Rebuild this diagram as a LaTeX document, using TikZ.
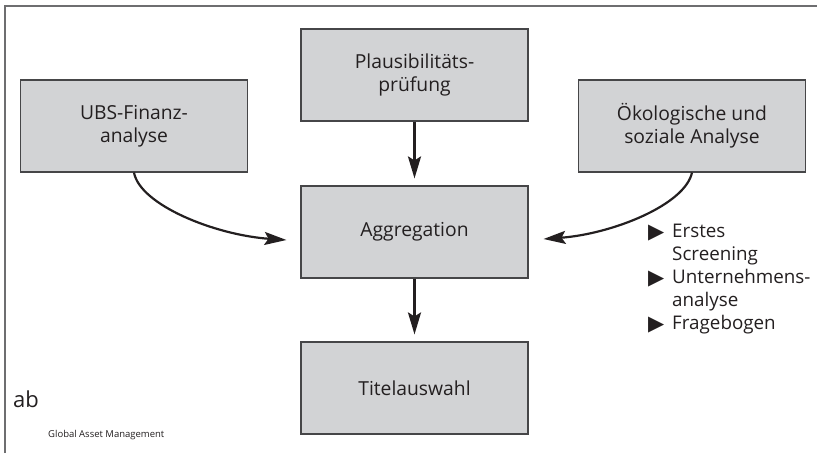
\documentclass[tikz,border=0pt]{standalone}
\usepackage{fontspec}
\setmainfont{Open Sans}
\newfontfamily\symfont{DejaVu Sans}
\usetikzlibrary{arrows.meta}
\definecolor{boxfill}{RGB}{210,211,213}
\definecolor{boxline}{RGB}{70,70,72}
\definecolor{ink}{RGB}{35,31,32}
\definecolor{framegray}{RGB}{110,110,112}
\newcommand{\tribullet}{\makebox[24pt][l]{\raisebox{-1pt}{\symfont\fontsize{21}{21}\selectfont ▶}}}
\newcommand{\tribindent}{\hspace*{24pt}}
\begin{document}
\begin{tikzpicture}[x=1pt,y=-1pt,
  stagebox/.style={draw=boxline,line width=1.1pt,fill=boxfill,minimum width=227pt,minimum height=92pt,
    align=center,text=ink,font=\fontsize{19.3}{23}\selectfont,inner sep=0pt},
  flowarrow/.style={draw=ink,line width=2.6pt,-{Stealth[length=22pt,width=13pt,inset=4pt]},shorten >=7pt},
  curvearrow/.style={draw=ink,line width=2.2pt,-{Stealth[length=22pt,width=13pt,inset=4pt]}}]
\useasboundingbox (0,0) rectangle (817,453);
\draw[framegray,line width=1.3pt] (5,453) -- (5,6) -- (817,6);
\node[stagebox] (ubs) at (134,126) {UBS-Finanz-\\analyse};
\node[stagebox] (plaus) at (414.5,75) {Plausibilitäts-\\prüfung};
\node[stagebox] (agg) at (414.5,232) {Aggregation};
\node[stagebox] (titel) at (414.5,388) {Titelauswahl};
\node[stagebox] (oeko) at (692,126) {Ökologische und\\soziale Analyse};
\draw[flowarrow] (plaus) -- (agg);
\draw[flowarrow] (agg) -- (titel);
\coordinate (lend) at ([xshift=-14pt,yshift=-8pt]agg.west);
\coordinate (rend) at ([xshift=15pt,yshift=-7pt]agg.east);
\draw[curvearrow] (ubs.south) .. controls (140,205) and (215,235) .. (lend);
\draw[curvearrow] (oeko.south) .. controls (685,205) and (612,234) .. (rend);
\node[anchor=north west,align=left,text=ink,font=\fontsize{18.8}{23}\selectfont,inner sep=0pt] (list) at (648,224)
  {\tribullet Erstes\\ \tribindent Screening\\ \tribullet Unternehmens-\\ \tribindent analyse\\ \tribullet Fragebogen};
\node[anchor=base west,text=ink,font=\fontsize{22}{22}\selectfont,inner sep=0pt] (logo) at (13,407) {ab};
\node[anchor=base west,text=ink,font=\fontsize{9.5}{9.5}\selectfont,inner sep=0pt] (gam) at (48,437) {Global Asset Management};
\end{tikzpicture}
\end{document}
